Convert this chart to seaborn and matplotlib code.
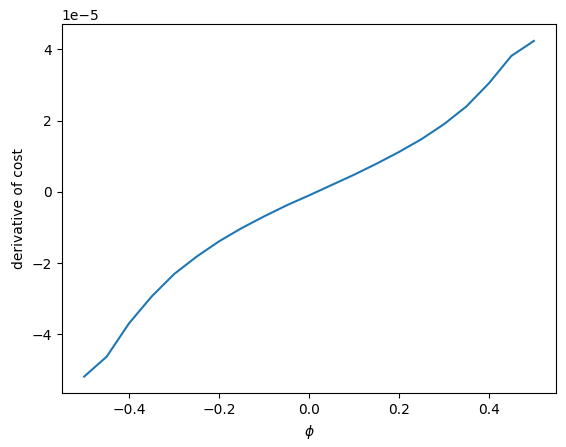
import numpy as np
import pandas as pd
import matplotlib
matplotlib.use("Agg")
import matplotlib.pyplot as plt
import seaborn as sns

# values (y in units of 1e-5)
phi = [-0.5, -0.45, -0.4, -0.35, -0.3, -0.25, -0.2, -0.15, -0.1, -0.05, 0.0,
       0.05, 0.1, 0.15, 0.2, 0.25, 0.3, 0.35, 0.4, 0.45, 0.5]
deriv = [-5.19, -4.63, -3.69, -2.94, -2.31, -1.82, -1.39, -1.02, -0.69, -0.38, -0.1,
         0.19, 0.48, 0.79, 1.12, 1.48, 1.90, 2.40, 3.05, 3.82, 4.24]

df = pd.DataFrame({"phi": phi, "deriv": np.array(deriv) * 1e-5})

fig, ax = plt.subplots(figsize=(5.66, 4.47), dpi=100)
fig.subplots_adjust(left=0.109, right=0.983, top=0.946, bottom=0.12)
sns.lineplot(x="phi", y="deriv", data=df, ax=ax, color="tab:blue")
ax.set_xlabel(r"$\phi$")
ax.set_ylabel("derivative of cost")
fig.savefig("out.png", dpi=100)
